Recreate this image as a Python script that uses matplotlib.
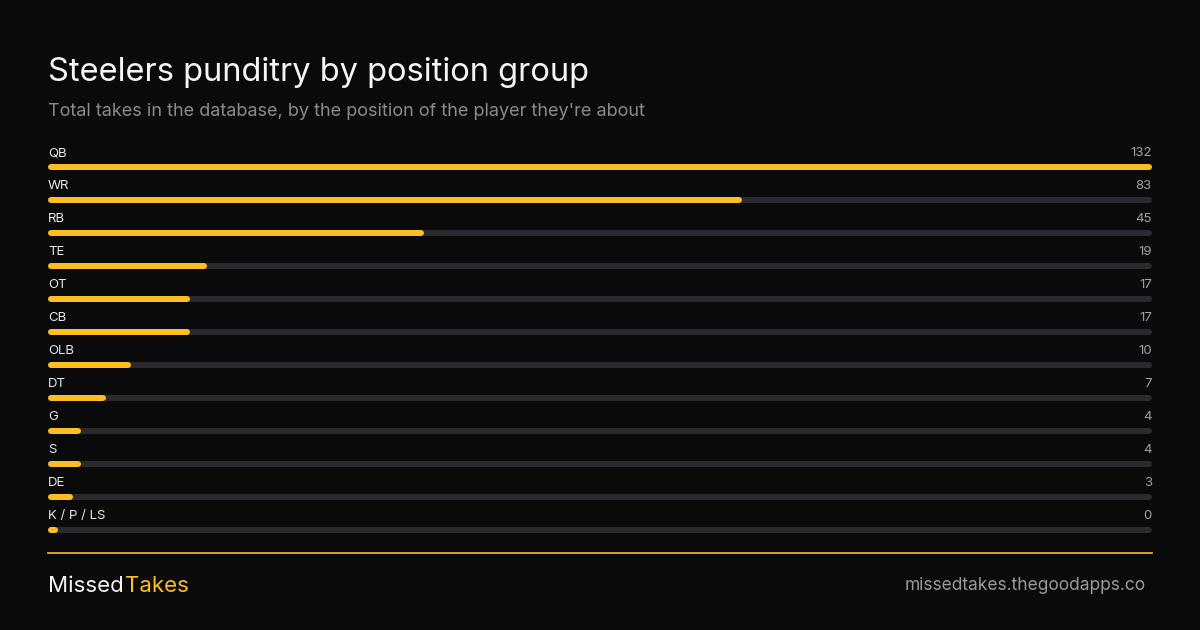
import matplotlib
matplotlib.use("Agg")
import matplotlib.pyplot as plt
from matplotlib.transforms import blended_transform_factory

plt.rcParams['font.family'] = ['Inter', 'DejaVu Sans']

positions = ["QB", "WR", "RB", "TE", "OT", "CB", "OLB", "DT", "G", "S", "DE", "K / P / LS"]
takes = [132, 83, 45, 19, 17, 17, 10, 7, 4, 4, 3, 0]

BG = "#0a0a0a"
YEL = "#fbbf24"
TRACK = "#2a2a2e"
W, H = 1200, 630

fig = plt.figure(figsize=(12, 6.3), dpi=100, facecolor=BG)
fig.text(48/W, 1-72/H, "Steelers punditry by position group", color="#f5f5f5",
         fontsize=23.5, va="center", ha="left")
fig.text(48/W, 1-112/H, "Total takes in the database, by the position of the player they're about",
         color="#8a8a90", fontsize=13, va="center", ha="left")

top, bottom = 140, 536
ax = fig.add_axes([48/W, 1-bottom/H, 1104/W, (bottom-top)/H])
ax.set_facecolor(BG)
ax.axis("off")
vmax = max(takes)
ax.set_xlim(0, vmax)
n = len(positions)
ax.set_ylim(n, 0)
lw = 6*72/100
minw = vmax*0.006
tr = blended_transform_factory(ax.transAxes, ax.transData)
for i, (p, v) in enumerate(zip(positions, takes)):
    yb = i + 0.82
    ax.plot([minw/2, vmax-minw/2], [yb, yb], color=TRACK, lw=lw, solid_capstyle="round")
    ax.plot([minw/2, max(v, minw*1.5)-minw/2], [yb, yb], color=YEL, lw=lw, solid_capstyle="round")
    ax.text(0, i+0.40, p, transform=tr, color="#e8e8e8", fontsize=9.5, va="center", ha="left")
    ax.text(1, i+0.40, str(v), transform=tr, color="#a0a0a6", fontsize=9.5, va="center", ha="right")

fig.add_artist(plt.Line2D([48/W, 1152/W], [1-553/H, 1-553/H], color=YEL, lw=1.2))
t1 = fig.text(48/W, 1-586/H, "Missed", color="#f5f5f5", fontsize=16, va="center", ha="left")
fig.canvas.draw()
bb = t1.get_window_extent()
fig.text(bb.x1/W + 1/W, 1-586/H, "Takes", color=YEL, fontsize=16, va="center", ha="left")
fig.text(1146/W, 1-586/H, "missedtakes.thegoodapps.co", color="#9a9aa0", fontsize=12.5,
         va="center", ha="right")

fig.savefig("out.png", facecolor=BG)
